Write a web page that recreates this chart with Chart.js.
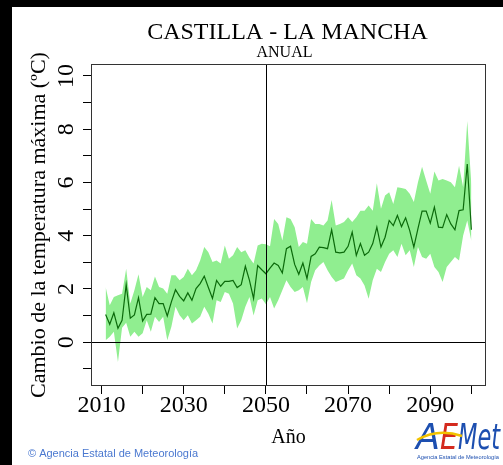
<!DOCTYPE html>
<html>
<head>
<meta charset="utf-8">
<script src="https://cdn.jsdelivr.net/npm/chart.js@4/dist/chart.umd.min.js"></script>
<style>
  html, body { margin: 0; padding: 0; background: #000; }
  canvas { display: block; }
</style>
</head>
<body>
<canvas id="c" width="503" height="465"></canvas>
<script>
// Annual change in maximum temperature (ºC), Castilla - La Mancha, 2011-2100
const years = [];
for (let y = 2011; y <= 2100; y++) years.push(y);

const meanChange = [
  1.04, 0.67, 1.10, 0.52, 0.82, 2.16, 0.90, 1.02, 1.67, 0.79,
  1.04, 1.05, 1.67, 1.45, 1.45, 0.98, 1.51, 1.97, 1.72, 1.55,
  1.85, 1.57, 2.01, 2.20, 2.48, 2.05, 1.64, 2.32, 2.10, 2.28,
  2.28, 2.32, 2.05, 2.16, 2.85, 2.32, 1.64, 2.88, 2.72, 2.57,
  2.78, 2.97, 2.88, 2.60, 3.51, 3.60, 2.92, 2.55, 2.97, 2.39,
  3.22, 3.32, 3.57, 3.55, 3.51, 4.22, 3.38, 3.35, 3.38, 3.60,
  4.13, 3.26, 3.70, 3.26, 3.38, 3.70, 4.32, 3.57, 3.94, 4.57,
  4.38, 4.76, 4.34, 4.67, 4.19, 3.57, 4.26, 4.92, 4.92, 4.47,
  5.07, 4.32, 4.30, 4.79, 4.44, 4.22, 4.94, 4.97, 6.69, 4.22
];

const upperChange = [
  2.07, 1.39, 1.70, 1.76, 1.82, 2.76, 1.45, 1.95, 2.55, 1.70,
  2.07, 1.95, 2.47, 2.07, 2.01, 1.82, 2.51, 2.51, 2.32, 2.45,
  2.76, 2.51, 2.70, 3.07, 3.57, 3.38, 3.01, 3.07, 2.95, 3.63,
  3.13, 3.26, 3.57, 3.38, 3.45, 3.17, 2.95, 3.63, 3.70, 3.68,
  3.60, 4.63, 4.44, 3.82, 4.69, 4.63, 4.32, 3.57, 3.76, 3.70,
  4.63, 4.44, 4.44, 4.38, 4.57, 5.34, 4.38, 4.44, 4.51, 4.69,
  4.51, 4.69, 4.94, 4.94, 5.13, 4.94, 5.97, 5.01, 5.51, 5.63,
  5.19, 5.82, 5.79, 5.75, 5.57, 5.26, 6.01, 6.59, 6.07, 5.57,
  6.41, 6.07, 6.13, 6.07, 6.01, 5.82, 6.63, 5.82, 8.31, 5.90
];

const lowerChange = [
  0.07, 0.20, 0.39, -0.75, 0.54, 0.73, 0.20, 0.39, 0.20, 0.33,
  0.82, 0.39, 0.95, 0.76, 0.95, 0.07, 0.58, 1.33, 1.01, 0.82,
  1.01, 0.70, 0.82, 0.95, 1.33, 1.07, 0.70, 1.57, 1.51, 1.88,
  1.82, 1.45, 0.51, 0.82, 1.33, 1.70, 1.00, 1.57, 1.64, 1.42,
  1.70, 1.26, 1.57, 1.95, 2.32, 2.07, 1.88, 1.95, 2.07, 1.46,
  2.26, 2.70, 2.88, 3.01, 2.70, 2.45, 2.26, 2.32, 2.39, 2.70,
  2.95, 2.51, 2.39, 2.13, 1.63, 2.32, 2.76, 2.63, 3.01, 3.32,
  3.45, 3.20, 3.70, 3.26, 3.45, 2.82, 3.57, 3.20, 3.13, 3.32,
  2.82, 2.63, 2.26, 2.82, 3.01, 3.20, 3.07, 4.01, 4.57, 3.80
];

const xTicks = [2010, 2020, 2030, 2040, 2050, 2060, 2070, 2080, 2090, 2100];
const xTickLabels = ['2010', '', '2030', '', '2050', '', '2070', '', '2090', ''];
const yTicks = [-1, 0, 1, 2, 3, 4, 5, 6, 7, 8, 9, 10];
const yTickLabels = ['', '0', '', '2', '', '4', '', '6', '', '8', '', '10'];

const toPoints = arr => arr.map((v, i) => ({ x: years[i], y: v }));

const SERIF = '"Liberation Serif", "Times New Roman", serif';

// Draw a string squeezed horizontally to a given width
function fitText(ctx, text, x, y, width) {
  const w = ctx.measureText(text).width;
  ctx.save();
  ctx.translate(x, y);
  ctx.scale(width / w, 1);
  ctx.fillText(text, 0, 0);
  ctx.restore();
}

// Frame, reference lines, headings, footer and logo
const decor = {
  id: 'decor',
  beforeDraw(chart) {
    const ctx = chart.ctx;
    ctx.save();
    ctx.fillStyle = '#ffffff';
    ctx.fillRect(0, 0, chart.width, chart.height);
    ctx.fillStyle = '#000000';
    ctx.fillRect(0, 0, chart.width, 7);
    ctx.fillRect(0, 0, 12, chart.height);
    ctx.restore();
  },
  afterDatasetsDraw(chart) {
    const ctx = chart.ctx;
    const a = chart.chartArea;
    const xs = chart.scales.x, ys = chart.scales.y;
    ctx.save();
    ctx.strokeStyle = '#000000';
    ctx.lineWidth = 1;
    const y0 = Math.round(ys.getPixelForValue(0)) + 0.5;
    ctx.beginPath();
    ctx.moveTo(a.left, y0);
    ctx.lineTo(a.right, y0);
    const x50 = Math.round(xs.getPixelForValue(2050)) + 0.5;
    ctx.moveTo(x50, a.top);
    ctx.lineTo(x50, a.bottom);
    ctx.stroke();
    ctx.strokeStyle = '#333333';
    ctx.strokeRect(a.left + 0.5, a.top + 0.5, a.right - a.left - 1, a.bottom - a.top - 1);
    ctx.restore();
  },
  afterDraw(chart) {
    const ctx = chart.ctx;
    const a = chart.chartArea;
    const cx = (a.left + a.right) / 2 - 1;
    ctx.save();
    ctx.fillStyle = '#000000';
    ctx.textAlign = 'center';
    ctx.textBaseline = 'alphabetic';
    ctx.font = '24px ' + SERIF;
    ctx.fillText('CASTILLA - LA MANCHA', cx, 38.5);
    ctx.font = '16px ' + SERIF;
    ctx.fillText('ANUAL', cx - 3, 57);

    // footer credit
    ctx.textAlign = 'left';
    ctx.fillStyle = '#4a78d0';
    ctx.font = '11px "Liberation Sans", Arial, sans-serif';
    ctx.fillText('\u00A9 Agencia Estatal de Meteorolog\u00EDa', 28, 457);

    // AEMet logo
    ctx.font = 'italic 36px "DejaVu Sans", sans-serif';
    ctx.fillStyle = '#1d4fb0';
    fitText(ctx, 'A', 416, 449, 24);
    ctx.fillStyle = '#d42a1e';
    fitText(ctx, 'E', 440, 449, 18);
    ctx.fillStyle = '#1d4fb0';
    fitText(ctx, 'Met', 458, 449, 42);
    ctx.strokeStyle = '#f2c300';
    ctx.lineWidth = 2.5;
    ctx.beginPath();
    ctx.moveTo(417, 440);
    ctx.quadraticCurveTo(438, 428, 462, 436);
    ctx.stroke();
    ctx.fillStyle = '#1d4fb0';
    ctx.font = '6px "Liberation Sans", Arial, sans-serif';
    fitText(ctx, 'Agencia Estatal de Meteorolog\u00EDa', 417, 459, 82);
    ctx.restore();
  }
};

new Chart(document.getElementById('c'), {
  type: 'line',
  data: {
    datasets: [
      {
        label: 'media',
        data: toPoints(meanChange),
        borderColor: '#0b6a0b',
        borderWidth: 1.2,
        pointRadius: 0,
        fill: false,
        order: 0
      },
      {
        label: 'superior',
        data: toPoints(upperChange),
        borderWidth: 0,
        borderColor: 'rgba(0,0,0,0)',
        backgroundColor: '#90ee90',
        pointRadius: 0,
        fill: '+1',
        order: 1
      },
      {
        label: 'inferior',
        data: toPoints(lowerChange),
        borderWidth: 0,
        borderColor: 'rgba(0,0,0,0)',
        pointRadius: 0,
        fill: false,
        order: 2
      }
    ]
  },
  plugins: [decor],
  options: {
    responsive: false,
    animation: false,
    devicePixelRatio: 1,
    layout: { padding: { top: 64, right: 17, left: 0, bottom: 0 } },
    plugins: {
      legend: { display: false },
      tooltip: { enabled: false },
      title: { display: false }
    },
    scales: {
      x: {
        type: 'linear',
        min: 2007.44,
        max: 2103.56,
        afterFit(s) { s.height = 79; },
        afterBuildTicks(s) { s.ticks = xTicks.map(v => ({ value: v })); },
        grid: { drawOnChartArea: false, tickLength: 8, color: '#000000' },
        border: { display: false },
        ticks: {
          autoSkip: false,
          maxRotation: 0,
          minRotation: 0,
          padding: -3,
          color: '#000000',
          font: { family: SERIF, size: 24 },
          callback: (v) => xTickLabels[xTicks.indexOf(v)] ?? ''
        },
        title: {
          display: true,
          text: 'Año',
          color: '#000000',
          font: { family: SERIF, size: 20 },
          padding: { top: 0, bottom: 15 }
        }
      },
      y: {
        type: 'linear',
        min: -1.648,
        max: 10.448,
        afterFit(s) { s.width = 91; },
        afterBuildTicks(s) { s.ticks = yTicks.map(v => ({ value: v })); },
        grid: { drawOnChartArea: false, tickLength: 8, color: '#000000' },
        border: { display: false },
        ticks: {
          autoSkip: false,
          minRotation: 90,
          maxRotation: 90,
          crossAlign: 'center',
          padding: 4,
          color: '#000000',
          font: { family: SERIF, size: 24 },
          callback: (v) => yTickLabels[yTicks.indexOf(v)] ?? ''
        },
        title: {
          display: true,
          text: 'Cambio de la temperatura máxima (ºC)',
          color: '#000000',
          font: { family: SERIF, size: 22 },
          padding: { top: 26, bottom: 0 }
        }
      }
    }
  }
});
</script>
</body>
</html>
